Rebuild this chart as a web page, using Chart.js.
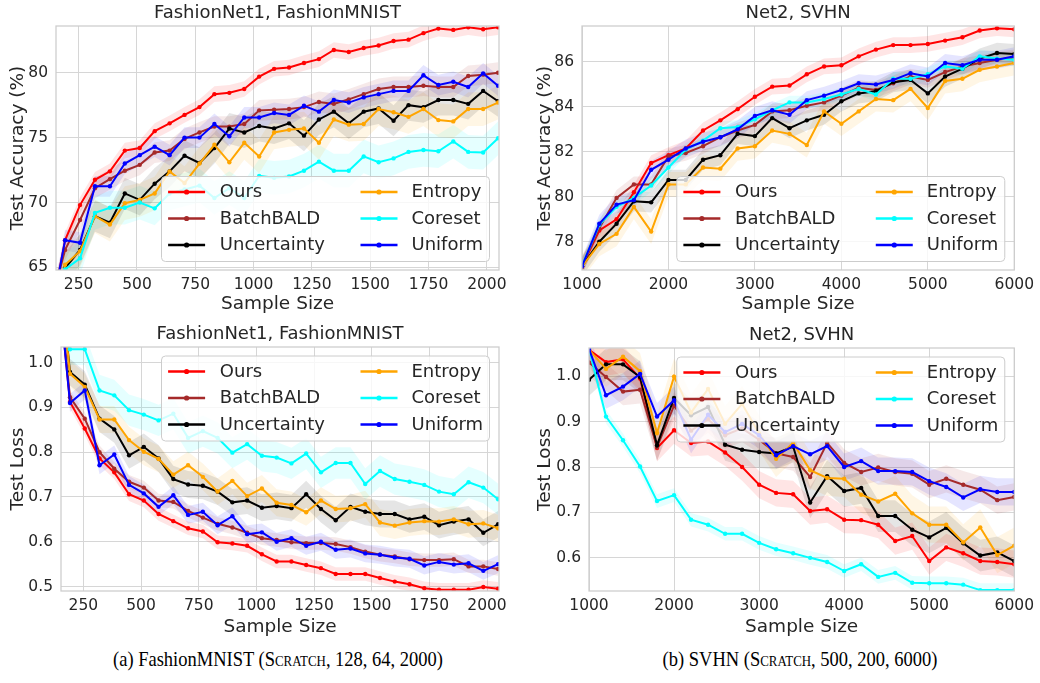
<!DOCTYPE html>
<html>
<head>
<meta charset="utf-8">
<script src="https://cdn.jsdelivr.net/npm/chart.js@4.4.1/dist/chart.umd.min.js"></script>
<style>
html, body { margin: 0; padding: 0; background: #ffffff; }
#wrap { position: relative; width: 1040px; height: 683px; overflow: hidden; background: #ffffff; }
canvas { position: absolute; }
.cap { position: absolute; top: 647px; font-family: 'Liberation Serif', 'Times New Roman', serif; font-size: 21.5px; color: #000; white-space: nowrap; transform: translateX(-50%) scaleX(0.86); transform-origin: 50% 50%; }
.sc { font-variant: small-caps; }
</style>
</head>
<body>
<div id="wrap">
  <canvas id="c1" width="520" height="320" style="left:0px;top:0px"></canvas>
  <canvas id="c2" width="520" height="320" style="left:520px;top:0px"></canvas>
  <canvas id="c3" width="520" height="320" style="left:0px;top:320px"></canvas>
  <canvas id="c4" width="520" height="320" style="left:520px;top:320px"></canvas>
  <div class="cap" style="left:278px">(a) FashionMNIST (<span class="sc">Scratch</span>, 128, 64, 2000)</div>
  <div class="cap" style="left:800px">(b) SVHN (<span class="sc">Scratch</span>, 500, 200, 6000)</div>
</div>
<script>
// ---------------- DATA ----------------
const methods = ['Ours', 'BatchBALD', 'Uncertainty', 'Entropy', 'Coreset', 'Uniform'];
const methodColors = ['#ff0000', '#a52a2a', '#000000', '#ffa500', '#00ffff', '#0000ff'];

const fmSizes = [128, 192, 256, 320, 384, 448, 512, 576, 640, 704, 768, 832, 896, 960, 1024, 1088,
  1152, 1216, 1280, 1344, 1408, 1472, 1536, 1600, 1664, 1728, 1792, 1856, 1920, 1984, 2048];
const svhnSizes = [1000, 1200, 1400, 1600, 1800, 2000, 2200, 2400, 2600, 2800, 3000, 3200, 3400,
  3600, 3800, 4000, 4200, 4400, 4600, 4800, 5000, 5200, 5400, 5600, 5800, 6000];

const fmTicksX = [250, 500, 750, 1000, 1250, 1500, 1750, 2000];
const svhnTicksX = [1000, 2000, 3000, 4000, 5000, 6000];
const fmAccTicksY = [65, 70, 75, 80];
const svhnAccTicksY = [78, 80, 82, 84, 86];
const fmLossTicksY = [0.5, 0.6, 0.7, 0.8, 0.9, 1.0];
const svhnLossTicksY = [0.6, 0.7, 0.8, 0.9, 1.0];

// FashionNet1, FashionMNIST - test accuracy (%)
const fmAccOurs = [61.0, 67.1, 69.8, 71.75, 72.4, 74.0, 74.2, 75.5, 76.1, 76.75, 77.35, 78.35, 78.45, 78.75, 79.7, 80.3,
  80.4, 80.75, 81.05, 81.75, 81.6, 81.9, 82.1, 82.45, 82.55, 83.05, 83.4, 83.3, 83.5, 83.35, 83.5];
const fmAccBatchBALD = [62.0, 66.35, 68.65, 71.1, 71.8, 72.45, 72.9, 73.85, 74.0, 74.9, 75.4, 75.85, 75.85, 76.05, 77.1, 77.15,
  77.2, 77.35, 77.75, 77.6, 77.95, 78.35, 78.75, 78.9, 78.9, 79.0, 78.9, 78.9, 79.75, 79.85, 80.0];
const fmAccUncertainty = [60.0, 64.95, 66.35, 68.95, 68.45, 70.7, 70.2, 71.45, 72.4, 73.6, 73.05, 74.2, 75.7, 75.4, 75.9, 75.7,
  76.1, 75.15, 76.4, 77.0, 76.1, 77.0, 77.25, 76.3, 77.5, 77.35, 77.9, 77.9, 77.6, 78.6, 77.8];
const fmAccEntropy = [60.5, 65.2, 66.25, 68.95, 68.3, 69.95, 70.2, 70.7, 72.4, 71.5, 73.0, 74.45, 73.1, 74.6, 73.55, 75.4,
  75.6, 75.7, 74.6, 76.4, 76.0, 76.05, 77.2, 76.95, 76.6, 77.2, 76.35, 76.25, 77.2, 77.2, 77.7];
const fmAccCoreset = [60.0, 64.85, 65.7, 69.2, 69.6, 69.6, 70.0, 69.55, 70.7, 71.0, 71.3, 70.35, 71.1, 70.35, 72.05, 71.9,
  72.0, 72.45, 73.15, 72.45, 72.45, 73.55, 73.1, 73.4, 73.9, 74.05, 73.95, 74.7, 73.9, 73.85, 74.95];
const fmAccUniform = [61.0, 67.1, 66.9, 71.25, 71.25, 73.0, 73.65, 74.3, 73.65, 75.0, 75.0, 76.05, 75.1, 76.55, 76.55, 76.9,
  76.75, 77.45, 77.0, 77.9, 77.7, 78.1, 78.35, 78.6, 78.6, 79.8, 79.05, 79.3, 78.9, 79.95, 79.0];
const fmAccSpread = [0.6, 0.8, 1.2, 1.3, 1.3, 0.8];

// Net2, SVHN - test accuracy (%)
const svhnAccOurs = [76.9, 78.5, 79.0, 80.2, 81.5, 81.85, 82.15, 82.95, 83.4, 83.9, 84.45, 84.9, 84.95,
  85.45, 85.8, 85.85, 86.25, 86.55, 86.75, 86.75, 86.8, 86.95, 87.1, 87.4, 87.5, 87.45];
const svhnAccBatchBALD = [76.9, 78.6, 79.95, 80.55, 80.55, 81.8, 81.95, 82.25, 82.65, 82.95, 83.2, 83.8, 83.85,
  84.05, 84.2, 84.5, 84.85, 84.75, 85.05, 85.35, 85.2, 85.55, 85.8, 85.95, 86.1, 86.2];
const svhnAccUncertainty = [76.9, 78.0, 78.8, 79.8, 79.75, 80.75, 80.75, 81.65, 81.85, 82.8, 82.7, 83.5, 83.05,
  83.4, 83.65, 84.25, 84.6, 84.7, 85.1, 85.2, 84.6, 85.35, 85.7, 86.15, 86.4, 86.35];
const svhnAccEntropy = [76.9, 77.9, 78.35, 79.55, 78.45, 80.55, 80.55, 81.3, 81.25, 82.15, 82.25, 82.95, 82.8,
  82.3, 83.8, 83.25, 83.8, 84.35, 84.3, 84.8, 83.95, 85.15, 85.25, 85.65, 85.8, 85.95];
const svhnAccCoreset = [76.95, 78.75, 79.55, 79.95, 80.5, 81.3, 82.1, 82.5, 83.05, 83.1, 83.45, 83.85, 84.2,
  84.2, 84.35, 84.55, 84.8, 84.55, 85.25, 85.25, 85.45, 85.8, 85.7, 86.25, 86.15, 86.1];
const svhnAccUniform = [76.9, 78.8, 79.65, 79.85, 81.2, 81.65, 82.15, 82.45, 82.65, 83.0, 83.6, 83.85, 83.65,
  84.3, 84.5, 84.75, 85.05, 85.0, 85.2, 85.5, 85.35, 85.95, 85.85, 86.1, 86.1, 86.25];
const svhnAccSpread = [0.35, 0.35, 0.45, 0.55, 0.3, 0.4];

// FashionNet1, FashionMNIST - test loss
const fmLossOurs = [1.25, 0.912, 0.853, 0.786, 0.755, 0.706, 0.692, 0.662, 0.646, 0.630, 0.623, 0.599, 0.596, 0.591, 0.572, 0.556,
  0.556, 0.548, 0.541, 0.528, 0.528, 0.528, 0.519, 0.511, 0.505, 0.496, 0.493, 0.493, 0.493, 0.499, 0.495];
const fmLossBatchBALD = [1.25, 0.923, 0.875, 0.800, 0.763, 0.734, 0.721, 0.692, 0.689, 0.669, 0.654, 0.640, 0.632, 0.620, 0.608, 0.604,
  0.599, 0.597, 0.597, 0.595, 0.588, 0.578, 0.571, 0.567, 0.561, 0.559, 0.559, 0.561, 0.545, 0.545, 0.539];
const fmLossUncertainty = [1.3, 0.979, 0.951, 0.875, 0.851, 0.793, 0.812, 0.786, 0.740, 0.728, 0.725, 0.712, 0.688, 0.692, 0.676, 0.680,
  0.675, 0.706, 0.673, 0.648, 0.678, 0.667, 0.662, 0.662, 0.650, 0.656, 0.637, 0.645, 0.650, 0.620, 0.639];
const fmLossEntropy = [1.3, 0.975, 0.946, 0.873, 0.873, 0.827, 0.801, 0.785, 0.750, 0.771, 0.745, 0.712, 0.736, 0.702, 0.719, 0.687,
  0.682, 0.666, 0.692, 0.673, 0.675, 0.684, 0.643, 0.636, 0.643, 0.646, 0.645, 0.650, 0.639, 0.641, 0.630];
const fmLossCoreset = [1.3, 1.03, 1.03, 0.938, 0.927, 0.894, 0.884, 0.871, 0.886, 0.832, 0.847, 0.832, 0.799, 0.818, 0.792, 0.788,
  0.775, 0.797, 0.755, 0.776, 0.776, 0.729, 0.758, 0.740, 0.734, 0.727, 0.712, 0.706, 0.733, 0.721, 0.695];
const fmLossUniform = [1.25, 0.910, 0.938, 0.771, 0.795, 0.727, 0.708, 0.678, 0.704, 0.660, 0.667, 0.637, 0.657, 0.617, 0.621, 0.600,
  0.608, 0.591, 0.600, 0.582, 0.585, 0.574, 0.571, 0.565, 0.562, 0.547, 0.555, 0.549, 0.552, 0.535, 0.550];
const fmLossSpread = [0.015, 0.015, 0.03, 0.03, 0.035, 0.02];

// Net2, SVHN - test loss
const svhnLossOurs = [1.058, 1.031, 1.037, 0.995, 0.842, 0.881, 0.853, 0.856, 0.832, 0.800, 0.761, 0.743, 0.740,
  0.703, 0.707, 0.684, 0.683, 0.673, 0.637, 0.648, 0.593, 0.623, 0.610, 0.593, 0.591, 0.586];
const svhnLossBatchBALD = [1.030, 0.998, 0.966, 0.970, 0.844, 0.935, 0.88, 0.905, 0.87, 0.885, 0.86, 0.83, 0.822,
  0.778, 0.853, 0.809, 0.789, 0.799, 0.789, 0.785, 0.761, 0.774, 0.761, 0.750, 0.727, 0.734];
const svhnLossUncertainty = [0.992, 1.026, 1.026, 0.998, 0.848, 0.952, 0.914, 0.932, 0.849, 0.838, 0.833, 0.830, 0.845,
  0.722, 0.780, 0.747, 0.754, 0.692, 0.692, 0.662, 0.645, 0.666, 0.632, 0.605, 0.612, 0.593];
const svhnLossEntropy = [1.058, 1.016, 1.043, 1.011, 0.875, 0.999, 0.92, 0.972, 0.895, 0.939, 0.874, 0.818, 0.853,
  0.793, 0.776, 0.774, 0.739, 0.724, 0.741, 0.698, 0.673, 0.673, 0.634, 0.667, 0.606, 0.627];
const svhnLossCoreset = [1.06, 0.911, 0.859, 0.801, 0.725, 0.738, 0.684, 0.673, 0.653, 0.653, 0.633, 0.619, 0.610,
  0.600, 0.591, 0.571, 0.586, 0.558, 0.567, 0.545, 0.544, 0.544, 0.541, 0.529, 0.529, 0.529];
const svhnLossUniform = [1.06, 0.958, 0.977, 1.005, 0.911, 0.947, 0.86, 0.915, 0.877, 0.895, 0.87, 0.826, 0.846,
  0.828, 0.846, 0.800, 0.813, 0.791, 0.791, 0.789, 0.769, 0.756, 0.733, 0.751, 0.745, 0.745];
const svhnLossSpread = [0.03, 0.03, 0.035, 0.04, 0.015, 0.03];

// ---------------- RENDERING ----------------
const FONT = '"DejaVu Sans", "Noto Sans", sans-serif';
const TXT = '#262626';
Chart.defaults.font.family = FONT;

function rgba(hex, a) {
  const n = parseInt(hex.slice(1), 16);
  return `rgba(${(n >> 16) & 255},${(n >> 8) & 255},${n & 255},${a})`;
}

const deco = {
  id: 'deco',
  afterDatasetsDraw(chart, args, o) {
    const a = chart.chartArea, ctx = chart.ctx;
    ctx.save();
    ctx.strokeStyle = '#cccccc';
    ctx.lineWidth = 1.25;
    ctx.strokeRect(a.left, a.top, a.right - a.left, a.bottom - a.top);
    ctx.restore();
  },
  afterDraw(chart, args, o) {
    const a = chart.chartArea, ctx = chart.ctx;
    ctx.save();
    ctx.fillStyle = TXT;
    ctx.textAlign = 'center';
    ctx.textBaseline = 'middle';
    ctx.font = `18px ${FONT}`;
    ctx.fillText(o.title, (a.left + a.right) / 2, a.top - 13);
    ctx.font = `18.5px ${FONT}`;
    ctx.fillText('Sample Size', (a.left + a.right) / 2, a.bottom + o.xTitleGap);
    ctx.save();
    ctx.translate(o.yTitleX, (a.top + a.bottom) / 2);
    ctx.rotate(-Math.PI / 2);
    ctx.fillText(o.yTitle, 0, 0);
    ctx.restore();

    // legend (matplotlib-like, two columns)
    const w = 328, h = 85, inset = 9.5;
    const L = a.right - inset - w;
    const T = o.legendPos === 'lower' ? a.bottom - 8.5 - h : a.top + 9;
    const r = 4;
    ctx.beginPath();
    ctx.moveTo(L + r, T);
    ctx.lineTo(L + w - r, T);
    ctx.quadraticCurveTo(L + w, T, L + w, T + r);
    ctx.lineTo(L + w, T + h - r);
    ctx.quadraticCurveTo(L + w, T + h, L + w - r, T + h);
    ctx.lineTo(L + r, T + h);
    ctx.quadraticCurveTo(L, T + h, L, T + h - r);
    ctx.lineTo(L, T + r);
    ctx.quadraticCurveTo(L, T, L + r, T);
    ctx.closePath();
    ctx.fillStyle = 'rgba(255,255,255,0.8)';
    ctx.fill();
    ctx.strokeStyle = '#cccccc';
    ctx.lineWidth = 1;
    ctx.stroke();

    const rows = [15.5, 42, 68.5];
    const cols = [{ s: 6.6, t: 58.3 }, { s: 199, t: 250 }];
    ctx.font = `18px ${FONT}`;
    ctx.textAlign = 'left';
    methods.forEach((m, i) => {
      const c = cols[Math.floor(i / 3)];
      const y = T + rows[i % 3];
      const x0 = L + c.s, x1 = x0 + 37;
      ctx.strokeStyle = methodColors[i];
      ctx.lineWidth = 2.5;
      ctx.beginPath();
      ctx.moveTo(x0, y);
      ctx.lineTo(x1, y);
      ctx.stroke();
      ctx.fillStyle = methodColors[i];
      ctx.beginPath();
      ctx.arc((x0 + x1) / 2, y, 2.6, 0, Math.PI * 2);
      ctx.fill();
      ctx.fillStyle = TXT;
      ctx.fillText(m, L + c.t, y + 0.5);
    });
    ctx.restore();
  }
};

function makePanel(id, cfg) {
  const datasets = [];
  cfg.series.forEach((s, i) => {
    const col = methodColors[i];
    const sp = cfg.spread[i];
    datasets.push({
      label: methods[i] + ' band+',
      data: cfg.xs.map((x, k) => ({ x: x, y: s[k] + sp })),
      borderWidth: 0, pointRadius: 0, pointHoverRadius: 0,
      backgroundColor: rgba(col, 0.1), borderColor: 'rgba(0,0,0,0)',
      fill: '+1', order: 100
    });
    datasets.push({
      label: methods[i] + ' band-',
      data: cfg.xs.map((x, k) => ({ x: x, y: s[k] - sp })),
      borderWidth: 0, pointRadius: 0, pointHoverRadius: 0,
      borderColor: 'rgba(0,0,0,0)', fill: false, order: 100
    });
  });
  cfg.series.forEach((s, i) => {
    datasets.push({
      label: methods[i],
      data: cfg.xs.map((x, k) => ({ x: x, y: s[k] })),
      borderColor: methodColors[i], backgroundColor: methodColors[i],
      borderWidth: 2, pointRadius: 2.2, pointBorderWidth: 0, pointHoverRadius: 0,
      fill: false, tension: 0, order: 6 - i
    });
  });

  const cw = 520, ch = 320;
  return new Chart(document.getElementById(id), {
    type: 'line',
    data: { datasets: datasets },
    plugins: [deco],
    options: {
      responsive: false, animation: false,
      events: [],
      layout: { padding: { left: 0, top: cfg.area.top, right: cw - cfg.area.right, bottom: 0 } },
      plugins: {
        legend: { display: false }, title: { display: false }, tooltip: { enabled: false },
        deco: { title: cfg.title, yTitle: cfg.yTitle, yTitleX: cfg.yTitleX, legendPos: cfg.legendPos, xTitleGap: cfg.xTitleGap }
      },
      scales: {
        x: {
          type: 'linear', min: cfg.xRange[0], max: cfg.xRange[1],
          afterBuildTicks: sc => { sc.ticks = cfg.xTicks.map(v => ({ value: v })); },
          afterFit: sc => { sc.height = ch - cfg.area.bottom; },
          grid: { color: '#d6d6d6', lineWidth: 1, drawTicks: false },
          border: { display: false },
          ticks: { padding: 6, color: TXT, font: { size: 15.5 }, maxRotation: 0, autoSkip: false,
                   callback: v => String(v) }
        },
        y: {
          type: 'linear', min: cfg.yRange[0], max: cfg.yRange[1],
          afterBuildTicks: sc => { sc.ticks = cfg.yTicks.map(v => ({ value: v })); },
          afterFit: sc => { sc.width = cfg.area.left; },
          grid: { color: '#d6d6d6', lineWidth: 1, drawTicks: false },
          border: { display: false },
          ticks: { padding: 8, color: TXT, font: { size: 15.5 }, autoSkip: false,
                   callback: v => cfg.yFmt(v) }
        }
      }
    }
  });
}

makePanel('c1', {
  xs: fmSizes,
  series: [fmAccOurs, fmAccBatchBALD, fmAccUncertainty, fmAccEntropy, fmAccCoreset, fmAccUniform],
  spread: fmAccSpread,
  xRange: [153, 2052], yRange: [64.8, 83.6],
  xTicks: fmTicksX, yTicks: fmAccTicksY, yFmt: v => String(v),
  area: { left: 56, top: 26, right: 499, bottom: 270 },
  title: 'FashionNet1, FashionMNIST', yTitle: 'Test Accuracy (%)', yTitleX: 18, legendPos: 'lower', xTitleGap: 34
});
makePanel('c2', {
  xs: svhnSizes,
  series: [svhnAccOurs, svhnAccBatchBALD, svhnAccUncertainty, svhnAccEntropy, svhnAccCoreset, svhnAccUniform],
  spread: svhnAccSpread,
  xRange: [1000, 6000], yRange: [76.74, 87.6],
  xTicks: svhnTicksX, yTicks: svhnAccTicksY, yFmt: v => String(v),
  area: { left: 62, top: 26, right: 496, bottom: 270 },
  title: 'Net2, SVHN', yTitle: 'Test Accuracy (%)', yTitleX: 25, legendPos: 'lower', xTitleGap: 34
});
makePanel('c3', {
  xs: fmSizes,
  series: [fmLossOurs, fmLossBatchBALD, fmLossUncertainty, fmLossEntropy, fmLossCoreset, fmLossUniform],
  spread: fmLossSpread,
  xRange: [153, 2052], yRange: [0.49, 1.035],
  xTicks: fmTicksX, yTicks: fmLossTicksY, yFmt: v => v.toFixed(1),
  area: { left: 61, top: 27, right: 499, bottom: 271 },
  title: 'FashionNet1, FashionMNIST', yTitle: 'Test Loss', yTitleX: 18, legendPos: 'upper', xTitleGap: 36
});
makePanel('c4', {
  xs: svhnSizes,
  series: [svhnLossOurs, svhnLossBatchBALD, svhnLossUncertainty, svhnLossEntropy, svhnLossCoreset, svhnLossUniform],
  spread: svhnLossSpread,
  xRange: [1000, 6000], yRange: [0.527, 1.062],
  xTicks: svhnTicksX, yTicks: svhnLossTicksY, yFmt: v => v.toFixed(1),
  area: { left: 69, top: 28, right: 496, bottom: 271 },
  title: 'Net2, SVHN', yTitle: 'Test Loss', yTitleX: 25, legendPos: 'upper', xTitleGap: 36
});
</script>
</body>
</html>
